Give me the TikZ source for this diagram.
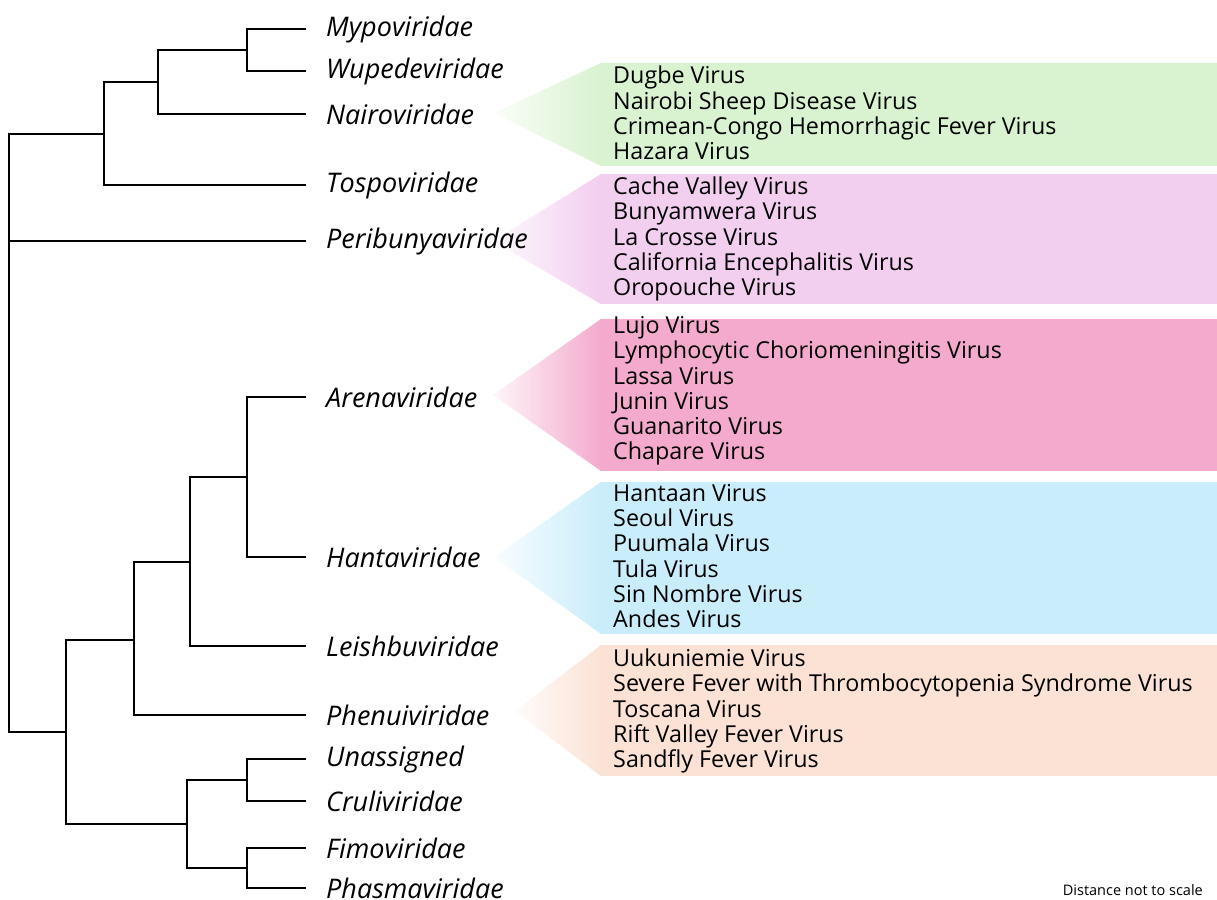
\documentclass[tikz,border=0pt]{standalone}
\usepackage{fontspec}
\setmainfont{Open Sans}
\usetikzlibrary{positioning}
\definecolor{nairoc}{RGB}{217,242,208}
\definecolor{peric}{RGB}{242,206,239}
\definecolor{arenac}{RGB}{244,170,205}
\definecolor{hantac}{RGB}{202,237,251}
\definecolor{phenuic}{RGB}{251,226,213}

\begin{document}
\begin{tikzpicture}[x=1pt,y=-1pt,
  branch/.style={line width=2pt},
  famlabel/.style={anchor=west,inner sep=0pt,font=\fontsize{27}{30}\selectfont\itshape},
  virlist/.style={anchor=west,align=left,inner sep=0pt,font=\fontsize{23.3}{25.2}\selectfont}]
\useasboundingbox (0,0) rectangle (1217,899);
% coloured fans and boxes
\foreach \c/\ax/\ay/\t/\b in {nairoc/494/113/63/166,peric/493/241/174/304,arenac/493/395/319/471,hantac/494/557/482/634,phenuic/515/711/645/776} {
  \shade[left color=\c!12!white,right color=\c] (\ax,\ay) -- (601,\t) -- (601,\b) -- cycle;
  \fill[\c] (600,\t) rectangle (1217,\b);
}
% leaves
\foreach \n/\y/\t in {myp/29/Mypoviridae,wup/71/Wupedeviridae,nai/114/Nairoviridae,tos/185/Tospoviridae,per/241/Peribunyaviridae,are/397/Arenaviridae,han/557/Hantaviridae,lei/646/Leishbuviridae,phe/715/Phenuiviridae,una/759/Unassigned,cru/801/Cruliviridae,fim/848/Fimoviridae,pha/888/Phasmaviridae} {
  \coordinate (\n) at (306,\y);
  \node[famlabel] (\n-lbl) at (326,\y) {\t};
}
% inner nodes
\coordinate (mw) at (247,50);
\coordinate (mwn) at (158,82);
\coordinate (mwnt) at (104,134);
\coordinate (ah) at (247,477);
\coordinate (ahl) at (190,562);
\coordinate (ahlp) at (134,640);
\coordinate (uc) at (247,780);
\coordinate (fp) at (247,868);
\coordinate (ucfp) at (187,824);
\coordinate (low) at (66,732);
\coordinate (root) at (9,433);
\draw[branch] (myp) -| (mw) |- (wup);
\draw[branch] (mw) -| (mwn) |- (nai);
\draw[branch] (mwn) -| (mwnt) |- (tos);
\draw[branch] (mwnt) -| (root) |- (low);
\draw[branch] (root |- per) -- (per);
\draw[branch] (are) -| (ah) |- (han);
\draw[branch] (ah) -| (ahl) |- (lei);
\draw[branch] (ahl) -| (ahlp) |- (phe);
\draw[branch] (una) -| (uc) |- (cru);
\draw[branch] (fim) -| (fp) |- (pha);
\draw[branch] (uc) -| (ucfp) |- (fp);
\draw[branch] (ahlp) -| (low) |- (ucfp);
% virus lists
\node[virlist] (nairo-list) at (613,113) {Dugbe Virus\\Nairobi Sheep Disease Virus\\Crimean-Congo Hemorrhagic Fever Virus\\Hazara Virus};
\node[virlist] (peri-list) at (613,239) {Cache Valley Virus\\Bunyamwera Virus\\La Crosse Virus\\California Encephalitis Virus\\Oropouche Virus};
\node[virlist] (arena-list) at (613,391) {Lujo Virus\\Lymphocytic Choriomeningitis Virus\\Lassa Virus\\Junin Virus\\Guanarito Virus\\Chapare Virus};
\node[virlist] (hanta-list) at (613,556) {Hantaan Virus\\Seoul Virus\\Puumala Virus\\Tula Virus\\Sin Nombre Virus\\Andes Virus};
\node[virlist] (phenui-list) at (613,711) {Uukuniemie Virus\\Severe Fever with Thrombocytopenia Syndrome Virus\\Toscana Virus\\Rift Valley Fever Virus\\Sandfly Fever Virus};
\node[anchor=east,inner sep=0pt,font=\fontsize{14.5}{16}\selectfont] (scale-note) at (1203,890) {Distance not to scale};
\end{tikzpicture}
\end{document}
